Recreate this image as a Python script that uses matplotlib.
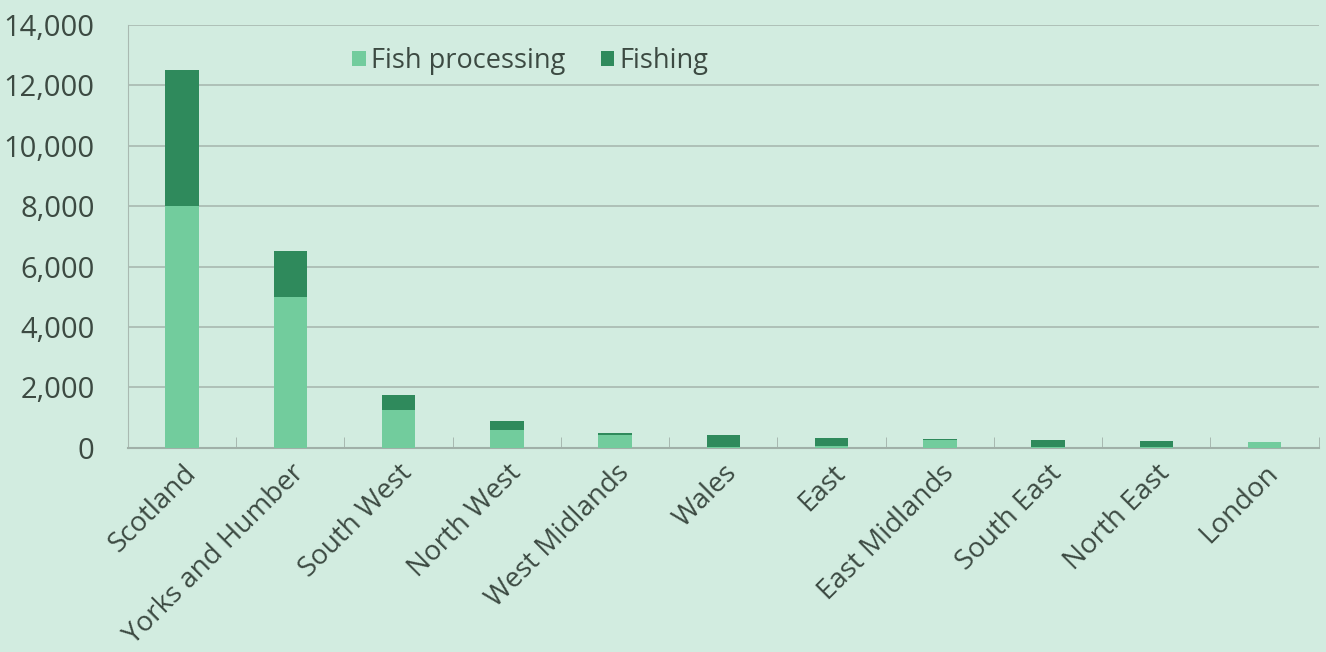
import matplotlib.pyplot as plt
import numpy as np
from matplotlib.ticker import FuncFormatter, FixedLocator

# regions and employment
regions = ['Scotland', 'Yorks and Humber', 'South West', 'North West', 'West Midlands',
           'Wales', 'East', 'East Midlands', 'South East', 'North East', 'London']
processing = [8000, 5000, 1250, 600, 420, 30, 60, 250, 30, 30, 180]
fishing = [4500, 1500, 500, 280, 80, 400, 270, 50, 230, 200, 20]

bg = '#d2ece0'
light = '#72cc9d'
dark = '#2f8a5c'
txt = '#3c4a42'

plt.rcParams['font.family'] = ['Open Sans', 'DejaVu Sans']

fig = plt.figure(figsize=(13.26, 6.52), dpi=100, facecolor=bg)
ax = fig.add_axes([0.0965, 0.313, 0.898, 0.649])
ax.set_facecolor(bg)

x = np.arange(len(regions))
ax.bar(x, processing, width=0.31, color=light, label='Fish processing', zorder=3)
ax.bar(x, fishing, width=0.31, bottom=processing, color=dark, label='Fishing', zorder=3)

ax.set_xlim(-0.5, len(regions) - 0.5)
ax.set_ylim(0, 14000)
ax.set_yticks(range(0, 14001, 2000))
ax.yaxis.set_major_formatter(FuncFormatter(lambda v, p: f'{int(v):,}'))
ax.grid(axis='y', color='#a9b9b1', linewidth=1.2, zorder=0)

ax.set_xticks(x)
ax.set_xticklabels(regions, rotation=45, ha='right', rotation_mode='anchor',
                   fontsize=20, color=txt)
ax.tick_params(axis='x', length=0, pad=8)
ax.xaxis.set_minor_locator(FixedLocator(np.arange(-0.5, len(regions), 1)))
ax.tick_params(axis='x', which='minor', length=8, direction='in', color='#a0b0a8')
ax.tick_params(axis='y', length=0, labelsize=21, labelcolor=txt, pad=24)

for s in ['top', 'right']:
    ax.spines[s].set_visible(False)
ax.spines['left'].set_color('#a9b9b1')
ax.spines['bottom'].set_color('#a0b0a8')
ax.spines['bottom'].set_linewidth(1.5)

ax.legend(loc='upper left', bbox_to_anchor=(0.168, 1.005), ncol=2, frameon=False,
          fontsize=19.5, handlelength=0.5, handleheight=0.5, handletextpad=0.2,
          columnspacing=1.3, labelcolor=txt)

fig.savefig('out.png', dpi=100, facecolor=bg)
